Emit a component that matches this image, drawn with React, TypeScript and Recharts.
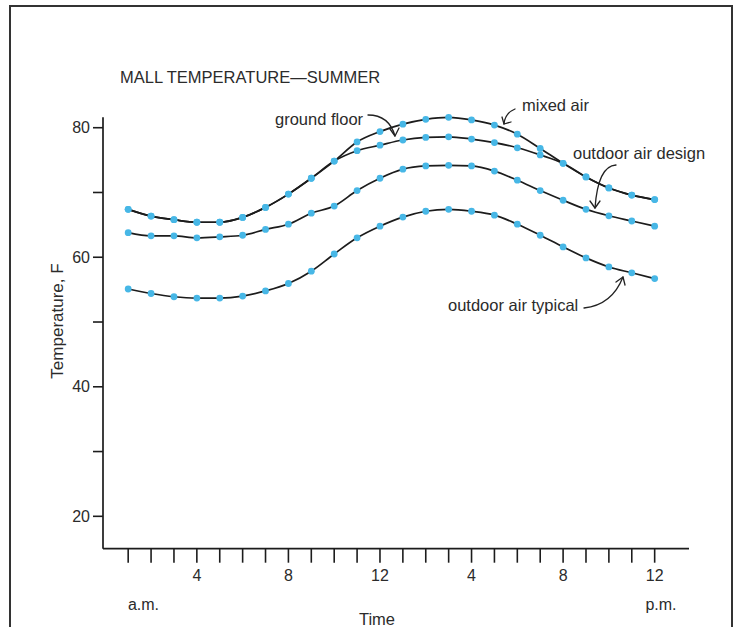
import React from 'react';
import { LineChart, Line, XAxis, YAxis } from 'recharts';

const hours = [1, 2, 3, 4, 5, 6, 7, 8, 9, 10, 11, 12, 13, 14, 15, 16, 17, 18, 19, 20, 21, 22, 23, 24];
const mixedAir = [67.4, 66.35, 65.8, 65.4, 65.4, 66.15, 67.7, 69.75, 72.2, 74.85, 77.8, 79.4, 80.55, 81.3, 81.6, 81.2, 80.4, 79.0, 76.8, 74.5, 72.4, 70.7, 69.6, 68.9];
const groundFloor = [67.4, 66.35, 65.8, 65.4, 65.4, 66.15, 67.7, 69.75, 72.2, 74.85, 76.45, 77.3, 78.1, 78.5, 78.6, 78.25, 77.7, 76.9, 75.8, 74.5, 72.4, 70.7, 69.6, 68.9];
const outdoorDesign = [63.8, 63.3, 63.3, 63.0, 63.15, 63.4, 64.3, 65.1, 66.8, 67.9, 70.3, 72.2, 73.6, 74.1, 74.2, 74.1, 73.3, 71.9, 70.3, 68.8, 67.4, 66.4, 65.6, 64.8];
const outdoorTypical = [55.1, 54.4, 53.9, 53.7, 53.7, 54.0, 54.8, 55.95, 57.85, 60.5, 63.0, 64.8, 66.2, 67.1, 67.4, 67.1, 66.5, 65.1, 63.4, 61.6, 59.9, 58.5, 57.6, 56.7];
const yTicks = [20, 30, 40, 50, 60, 70, 80];
const yLabelled = [20, 40, 60, 80];

const data = hours.map((h, i) => ({
  hour: h,
  mixed: mixedAir[i],
  ground: groundFloor[i],
  design: outdoorDesign[i],
  typical: outdoorTypical[i],
}));

const FONT = '"Liberation Sans", Arial, Helvetica, sans-serif';
const TXT = '#2b2b2b';
const LINE = '#1c1c1c';
const DOT = '#47b7e6';

const XTick = (props: any) => {
  const { x, y, payload } = props;
  const h = payload.value;
  if (h % 4 !== 0) return <g />;
  const label = h > 12 ? h - 12 : h;
  return (
    <text x={x} y={y + 11} textAnchor="middle" dominantBaseline="central" fontSize={16} fill={TXT} fontFamily={FONT}>
      {label}
    </text>
  );
};

const YTick = (props: any) => {
  const { x, y, payload } = props;
  if (!yLabelled.includes(payload.value)) return <g />;
  return (
    <text x={x - 1} y={y} textAnchor="end" dominantBaseline="central" fontSize={16} fill={TXT} fontFamily={FONT}>
      {payload.value}
    </text>
  );
};

const dotStyle = { r: 3.4, fill: DOT, stroke: 'none' };

export default function App() {
  return (
    <div style={{ position: 'fixed', left: 0, top: 0, width: 736, height: 627, background: '#fff', overflow: 'hidden' }}>
      <LineChart
        width={736}
        height={627}
        data={data}
        margin={{ top: 117.35, right: 47, bottom: 0, left: 0 }}
      >
        <XAxis
          dataKey="hour"
          type="number"
          domain={[-0.1, 25.5]}
          ticks={hours}
          interval={0}
          height={78.3}
          tickSize={14}
          tick={XTick}
          axisLine={{ stroke: LINE, strokeWidth: 1.7 }}
          tickLine={{ stroke: LINE, strokeWidth: 1.6 }}
        />
        <YAxis
          type="number"
          domain={[15, 81.6]}
          ticks={yTicks}
          interval={0}
          width={103}
          tickSize={10}
          tick={YTick}
          axisLine={{ stroke: LINE, strokeWidth: 1.7 }}
          tickLine={{ stroke: LINE, strokeWidth: 1.6 }}
        />
        <Line type="monotone" dataKey="typical" stroke={LINE} strokeWidth={1.7} dot={dotStyle} isAnimationActive={false} />
        <Line type="monotone" dataKey="design" stroke={LINE} strokeWidth={1.7} dot={dotStyle} isAnimationActive={false} />
        <Line type="monotone" dataKey="ground" stroke={LINE} strokeWidth={1.7} dot={dotStyle} isAnimationActive={false} />
        <Line type="monotone" dataKey="mixed" stroke={LINE} strokeWidth={1.7} dot={dotStyle} isAnimationActive={false} />
      </LineChart>
      <svg width={736} height={627} style={{ position: 'absolute', left: 0, top: 0, pointerEvents: 'none' }}>
        <rect x={10} y={6} width={722} height={700} fill="none" stroke="#333" strokeWidth={2} />
        <text x={120} y={77} dominantBaseline="central" fontSize={16.5} fill={TXT} fontFamily={FONT}>
          MALL TEMPERATURE—SUMMER
        </text>
        <text transform="translate(57,321) rotate(-90)" textAnchor="middle" dominantBaseline="central" fontSize={17} fill={TXT} fontFamily={FONT}>
          Temperature, F
        </text>
        <text x={143.5} y={604} textAnchor="middle" dominantBaseline="central" fontSize={16} fill={TXT} fontFamily={FONT}>a.m.</text>
        <text x={661} y={604} textAnchor="middle" dominantBaseline="central" fontSize={16} fill={TXT} fontFamily={FONT}>p.m.</text>
        <text x={377} y={619} textAnchor="middle" dominantBaseline="central" fontSize={16.5} fill={TXT} fontFamily={FONT}>Time</text>

        <text x={275} y={119} dominantBaseline="central" fontSize={16.5} fill={TXT} fontFamily={FONT}>ground floor</text>
        <text x={522} y={105} dominantBaseline="central" fontSize={16.5} fill={TXT} fontFamily={FONT}>mixed air</text>
        <text x={573} y={153} dominantBaseline="central" fontSize={16.5} fill={TXT} fontFamily={FONT}>outdoor air design</text>
        <text x={448} y={305} dominantBaseline="central" fontSize={16.5} fill={TXT} fontFamily={FONT}>outdoor air typical</text>

        <g fill="none" stroke="#222" strokeWidth={1.3} strokeLinecap="round" strokeLinejoin="round">
          <path d="M 368 115 Q 389 115 395 136" />
          <path d="M 390 129 L 395 136 L 399 128" />
          <path d="M 515 109 Q 505 113 504 124" />
          <path d="M 502 117 L 504 124 L 511 122" />
          <path d="M 616 165 Q 598 166 595 208" />
          <path d="M 590 201 L 595 208 L 600 201" />
          <path d="M 584 308 Q 612 305 623 277" />
          <path d="M 616 282 L 623 277 L 625 285" />
        </g>
      </svg>
    </div>
  );
}
